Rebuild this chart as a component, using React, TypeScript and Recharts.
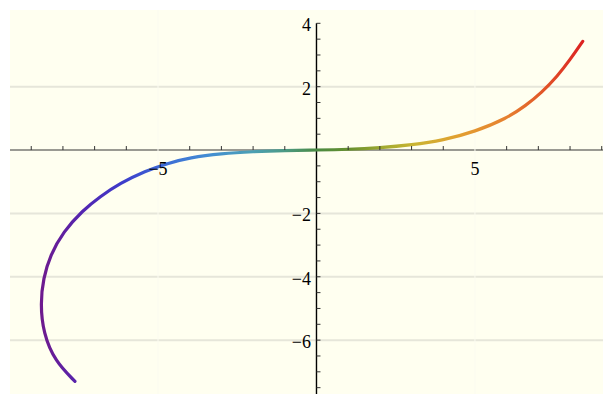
import React from "react";
import { ComposedChart, Line, Scatter, XAxis, YAxis, ReferenceLine, ReferenceDot, ReferenceArea } from "recharts";

// curve samples in parameter order (purple end -> red end)
const curveX = [-7.62, -8.25, -8.62, -8.71, -8.62, -8.4, -7.99, -7.38, -6.83, -6.2, -5.4, -4.7, -4, -3, -2, -1, 0, 1, 2, 3, 4, 5, 6, 6.6, 7.1, 7.6, 8.0, 8.4];
const curveY = [-7.3, -6.67, -5.78, -4.84, -4.05, -3.32, -2.58, -1.91, -1.47, -1.05, -0.66, -0.42, -0.24, -0.11, -0.05, -0.015, 0, 0.02, 0.07, 0.16, 0.31, 0.58, 1.0, 1.4, 1.81, 2.33, 2.85, 3.43];

const xLabelTicks = [-5, 5];
const xMinorTicks = [-9, -8, -7, -6, -4, -3, -2, -1, 1, 2, 3, 4, 6, 7, 8, 9];
const yLabelTicks = [4, 2, -2, -4, -6];
const yMinorTicks = [4, 3.5, 3, 2.5, 2, 1.5, 1, 0.5, -0.5, -1, -1.5, -2, -2.5, -3, -3.5, -4, -4.5, -5, -5.5, -6, -6.5, -7, -7.5];
const yGridLines = [2, -2, -4, -6];

const XMIN = -9.67;
const XMAX = 9.04;
const YMIN = -7.7;
const YMAX = 4.42;

const data = curveX.map((x, i) => ({ x, y: curveY[i] }));
const xLabelData = xLabelTicks.map((v) => ({ x: v, y: 0, t: v }));
const yLabelData = yLabelTicks.map((v) => ({ x: 0, y: v, t: v }));

const fmt = (v: number) => (v < 0 ? "\u2212" + Math.abs(v) : String(v));
const FONT = "'Liberation Serif', 'DejaVu Serif', serif";

const XLabel = (p: any) => (
  <text x={p.cx} y={p.cy + 25} textAnchor="middle" style={{ fontFamily: FONT, fontSize: 18 }} fill="#000">{fmt(p.payload.t)}</text>
);
const YLabel = (p: any) => (
  <text x={p.cx - 5.5} y={p.cy + 8} textAnchor="end" style={{ fontFamily: FONT, fontSize: 18 }} fill="#000">{fmt(p.payload.t)}</text>
);

export default function App() {
  return (
    <div style={{ position: "absolute", left: 0, top: 0 }}>
      <ComposedChart width={603} height={394} data={data} margin={{ top: 10, left: 10, right: 0, bottom: 0 }}>
        <defs>
          <linearGradient id="rainbow" x1="0" y1="0" x2="1" y2="0">
            <stop offset="0" stopColor="#6e1a8e" />
            <stop offset="0.08" stopColor="#5226b2" />
            <stop offset="0.15" stopColor="#3d3cca" />
            <stop offset="0.22" stopColor="#3c68d6" />
            <stop offset="0.31" stopColor="#438ed2" />
            <stop offset="0.39" stopColor="#4ca0b4" />
            <stop offset="0.45" stopColor="#4c9a84" />
            <stop offset="0.51" stopColor="#4a8a42" />
            <stop offset="0.57" stopColor="#68902e" />
            <stop offset="0.63" stopColor="#a0aa30" />
            <stop offset="0.69" stopColor="#cab432" />
            <stop offset="0.77" stopColor="#e2a030" />
            <stop offset="0.86" stopColor="#e68030" />
            <stop offset="0.92" stopColor="#e25a28" />
            <stop offset="1" stopColor="#dc2222" />
          </linearGradient>
        </defs>
        <XAxis type="number" dataKey="x" domain={[XMIN, XMAX]} allowDataOverflow hide />
        <YAxis type="number" dataKey="y" domain={[YMIN, YMAX]} allowDataOverflow hide />
        <ReferenceArea x1={XMIN} x2={XMAX} y1={YMIN} y2={YMAX} fill="#fffff0" fillOpacity={1} stroke="none" ifOverflow="visible" />
        {yGridLines.map((v) => (
          <ReferenceLine key={"g" + v} y={v} stroke="#e6e6da" strokeWidth={2} />
        ))}
        <ReferenceLine y={0} stroke="#9a9a92" strokeWidth={2} />
        {xLabelTicks.map((v) => (
          <ReferenceLine key={"vg" + v} x={v} stroke="#fbfbf0" strokeWidth={1} />
        ))}
        <ReferenceLine segment={[{ x: 0, y: 4 }, { x: 0, y: YMIN }]} stroke="#000" strokeWidth={1.4} />
        {xMinorTicks.map((v) => (
          <ReferenceDot key={"xt" + v} x={v} y={0} r={0}
            shape={(p: any) => <line x1={p.cx} y1={p.cy} x2={p.cx} y2={p.cy - 4} stroke="#333" strokeWidth={1} />} />
        ))}
        {yMinorTicks.map((v) => (
          <ReferenceDot key={"yt" + v} x={0} y={v} r={0}
            shape={(p: any) => <line x1={p.cx} y1={p.cy} x2={p.cx + 4} y2={p.cy} stroke="#333" strokeWidth={1} />} />
        ))}
        <Line dataKey="y" type="basis" stroke="url(#rainbow)" strokeWidth={3.2} dot={false} strokeLinecap="round" isAnimationActive={false} />
        <Scatter data={xLabelData} dataKey="y" shape={XLabel} isAnimationActive={false} />
        <Scatter data={yLabelData} dataKey="y" shape={YLabel} isAnimationActive={false} />
      </ComposedChart>
    </div>
  );
}
